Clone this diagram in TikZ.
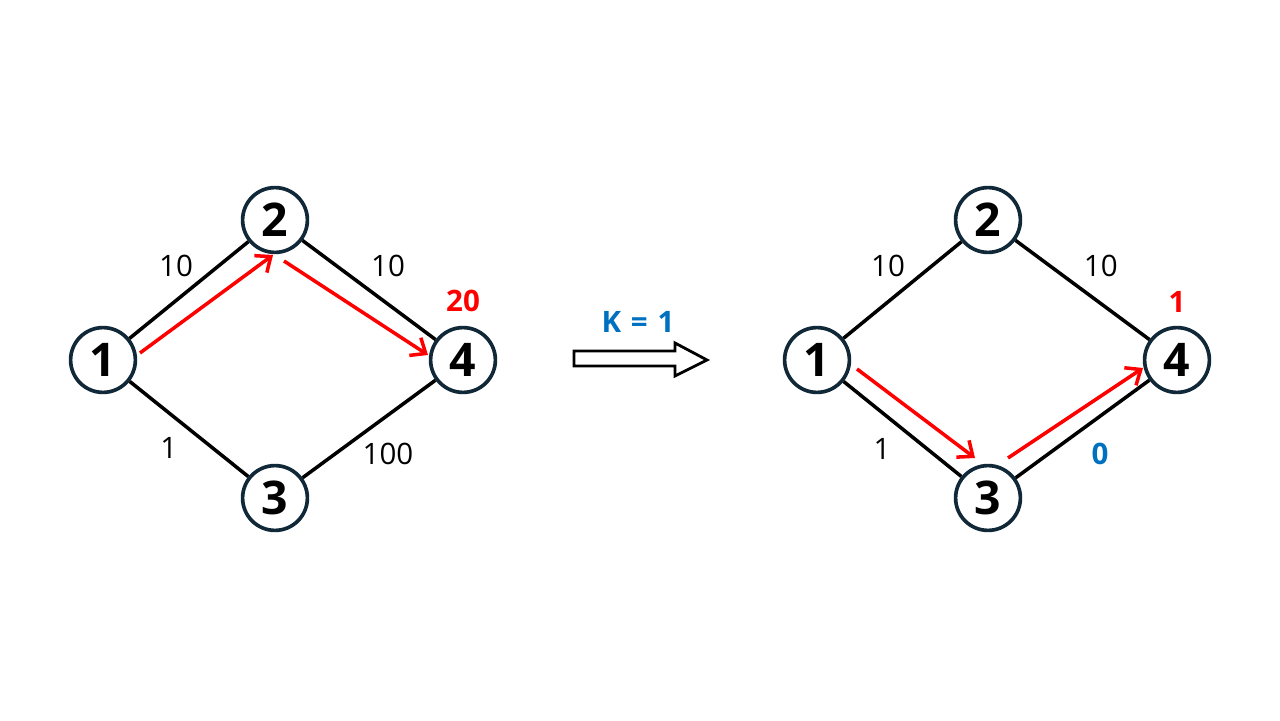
\documentclass[tikz,border=0pt]{standalone}
\usepackage{fontspec}
\setmainfont{Open Sans}
\usetikzlibrary{arrows.meta}
\definecolor{ring}{RGB}{16,40,56}
\definecolor{kblue}{RGB}{0,112,192}
\tikzset{
  vertex/.style={circle, draw=ring, line width=2.6pt, fill=white, minimum size=1.62cm, inner sep=0pt, font=\fontsize{33}{40}\selectfont\bfseries},
  link/.style={line width=2.5pt},
  route/.style={red, line width=2.5pt, -{Straight Barb[length=9pt, width=15pt, line width=2.5pt]}},
  cost/.style={font=\fontsize{21}{26}\selectfont}
}
\begin{document}
\begin{tikzpicture}
        \useasboundingbox (0,0) rectangle (32,18);
        % before
        \node[vertex] (l1) at (2.575,9) {1};
        \node[vertex] (l2) at (6.875,12.5) {2};
        \node[vertex] (l3) at (6.875,5.55) {3};
        \node[vertex] (l4) at (11.575,9) {4};
        \draw[link] (l1) -- (l2);
        \draw[link] (l2) -- (l4);
        \draw[link] (l1) -- (l3);
        \draw[link] (l3) -- (l4);
        \node[cost] (w12) at (4.4,11.35) {10};
        \node[cost] (w24) at (9.7,11.35) {10};
        \node[cost] (w13) at (4.22,6.8) {1};
        \node[cost] (w34) at (9.7,6.65) {100};
        \node[cost, red, font=\fontsize{21}{26}\selectfont\bfseries] (d4) at (11.575,10.48) {20};
        \coordinate (p1) at (3.5,9.175);
        \coordinate (p2) at (6.825,11.625);
        \coordinate (p3) at (7.1,11.475);
        \coordinate (p4) at (10.7,9.125);
        \draw[route] (p1) -- (p2);
        \draw[route] (p3) -- (p4);
        % transform
        \node[cost, kblue, font=\fontsize{21}{26}\selectfont\bfseries] (k) at (15.95,9.95) {K\,\,=\,\,1};
        \draw[line width=2pt] (14.35,9.225) -- (16.875,9.225) -- (16.875,9.425) -- (17.675,9)
          -- (16.875,8.6) -- (16.875,8.85) -- (14.35,8.85) -- cycle;
        % after
        \node[vertex] (r1) at (20.425,9) {1};
        \node[vertex] (r2) at (24.7,12.5) {2};
        \node[vertex] (r3) at (24.7,5.55) {3};
        \node[vertex] (r4) at (29.425,9) {4};
        \draw[link] (r1) -- (r2);
        \draw[link] (r2) -- (r4);
        \draw[link] (r1) -- (r3);
        \draw[link] (r3) -- (r4);
        \node[cost] (v12) at (22.2,11.35) {10};
        \node[cost] (v24) at (27.52,11.35) {10};
        \node[cost] (v13) at (22.05,6.78) {1};
        \node[cost, kblue, font=\fontsize{21}{26}\selectfont\bfseries] (v34) at (27.5,6.65) {0};
        \node[cost, red, font=\fontsize{21}{26}\selectfont\bfseries] (e4) at (29.425,10.45) {1};
        \coordinate (q1) at (21.425,8.775);
        \coordinate (q2) at (24.375,6.55);
        \coordinate (q3) at (25.2,6.55);
        \coordinate (q4) at (28.575,8.8);
        \draw[route] (q1) -- (q2);
        \draw[route] (q3) -- (q4);
      \end{tikzpicture}
\end{document}
